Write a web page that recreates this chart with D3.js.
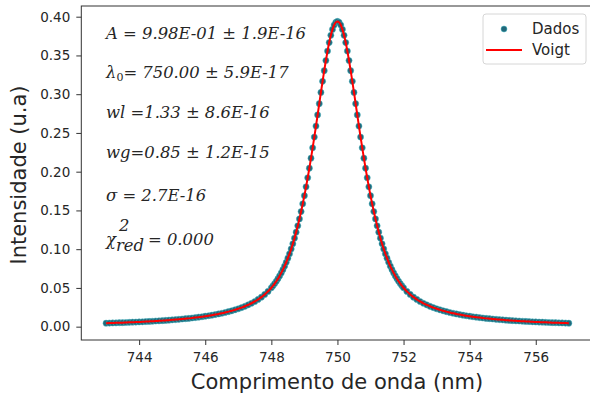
<!DOCTYPE html>
<html>
<head>
<meta charset="utf-8">
<script src="https://cdn.jsdelivr.net/npm/d3@7"></script>
<style>
  body { margin: 0; background: #fff; }
  svg { display: block; }
  text { font-family: "DejaVu Sans", sans-serif; fill: #262626; }
  .anot { font-family: "DejaVu Serif", serif; font-style: italic; font-size: 16.4px; }
</style>
</head>
<body>
<svg id="chart" width="590" height="395"></svg>
<script>
// comprimento de onda (nm) - passo 0.1 nas asas, 0.05 no pico
const comprimento = [
  743,743.1,743.2,743.3,743.4,743.5,743.6,743.7,743.8,743.9,
  744,744.1,744.2,744.3,744.4,744.5,744.6,744.7,744.8,744.9,
  745,745.1,745.2,745.3,745.4,745.5,745.6,745.7,745.8,745.9,
  746,746.1,746.2,746.3,746.4,746.5,746.6,746.7,746.8,746.9,
  747,747.1,747.2,747.3,747.4,747.5,747.6,747.7,747.8,747.9,
  748,748.05,748.1,748.15,748.2,748.25,748.3,748.35,748.4,748.45,
  748.5,748.55,748.6,748.65,748.7,748.75,748.8,748.85,748.9,748.95,
  749,749.05,749.1,749.15,749.2,749.25,749.3,749.35,749.4,749.45,
  749.5,749.55,749.6,749.65,749.7,749.75,749.8,749.85,749.9,749.95,
  750,
  750.05,750.1,750.15,750.2,750.25,750.3,750.35,750.4,750.45,750.5,
  750.55,750.6,750.65,750.7,750.75,750.8,750.85,750.9,750.95,751,
  751.05,751.1,751.15,751.2,751.25,751.3,751.35,751.4,751.45,751.5,
  751.55,751.6,751.65,751.7,751.75,751.8,751.85,751.9,751.95,752,
  752.1,752.2,752.3,752.4,752.5,752.6,752.7,752.8,752.9,753,
  753.1,753.2,753.3,753.4,753.5,753.6,753.7,753.8,753.9,754,
  754.1,754.2,754.3,754.4,754.5,754.6,754.7,754.8,754.9,755,
  755.1,755.2,755.3,755.4,755.5,755.6,755.7,755.8,755.9,756,
  756.1,756.2,756.3,756.4,756.5,756.6,756.7,756.8,756.9,757
];

const intensidade = [
  0.0045,0.0047,0.0048,0.0049,0.0051,0.0052,0.0054,0.0056,0.0058,0.0059,
  0.0061,0.0063,0.0066,0.0068,0.0070,0.0073,0.0075,0.0078,0.0081,0.0084,
  0.0088,0.0091,0.0095,0.0099,0.0103,0.0107,0.0112,0.0117,0.0123,0.0128,
  0.0135,0.0141,0.0148,0.0156,0.0164,0.0173,0.0183,0.0194,0.0205,0.0218,
  0.0231,0.0246,0.0263,0.0282,0.0302,0.0325,0.0352,0.0381,0.0416,0.0455,
  0.0502,0.0528,0.0556,0.0586,0.0619,0.0655,0.0694,0.0736,0.0781,0.0830,
  0.0884,0.0941,0.1003,0.1070,0.1142,0.1220,0.1302,0.1391,0.1485,0.1585,
  0.1691,0.1804,0.1922,0.2045,0.2174,0.2308,0.2447,0.2588,0.2733,0.2878,
  0.3023,0.3166,0.3304,0.3435,0.3556,0.3666,0.3760,0.3836,0.3893,0.3927,
  0.3939,
  0.3927,0.3893,0.3836,0.3760,0.3666,0.3556,0.3435,0.3304,0.3166,0.3023,
  0.2878,0.2733,0.2588,0.2447,0.2308,0.2174,0.2045,0.1922,0.1804,0.1691,
  0.1585,0.1485,0.1391,0.1302,0.1220,0.1142,0.1070,0.1003,0.0941,0.0884,
  0.0830,0.0781,0.0736,0.0694,0.0655,0.0619,0.0586,0.0556,0.0528,0.0502,
  0.0455,0.0416,0.0381,0.0352,0.0325,0.0302,0.0282,0.0263,0.0246,0.0231,
  0.0218,0.0205,0.0194,0.0183,0.0173,0.0164,0.0156,0.0148,0.0141,0.0135,
  0.0128,0.0123,0.0117,0.0112,0.0107,0.0103,0.0099,0.0095,0.0091,0.0088,
  0.0084,0.0081,0.0078,0.0075,0.0073,0.0070,0.0068,0.0066,0.0063,0.0061,
  0.0059,0.0058,0.0056,0.0054,0.0052,0.0051,0.0049,0.0048,0.0047,0.0045
];

// ajuste Voigt coincide com os dados (chi2 = 0)
const ajusteVoigt = intensidade;

const xTicks = [744, 746, 748, 750, 752, 754, 756];
const yTicks = [0, 0.05, 0.10, 0.15, 0.20, 0.25, 0.30, 0.35, 0.40];

const svg = d3.select("#chart");
const mLeft = 81.3, mRight = 593.6, mTop = 6, mBottom = 340;

const x = d3.scaleLinear().domain([742.25, 757.75]).range([mLeft, mRight]);
const y = d3.scaleLinear().domain([-0.0172, 0.4138]).range([mBottom, mTop]);

const pts = comprimento.map((c, i) => ({ c: c, v: intensidade[i], f: ajusteVoigt[i] }));

svg.append("clipPath").attr("id", "clip")
  .append("rect").attr("x", mLeft).attr("y", mTop)
  .attr("width", mRight - mLeft).attr("height", mBottom - mTop);

const plot = svg.append("g").attr("clip-path", "url(#clip)");

// dados
plot.selectAll("circle.dado")
  .data(pts)
  .enter()
  .append("circle")
  .attr("class", "dado")
  .attr("cx", d => x(d.c))
  .attr("cy", d => y(d.v))
  .attr("r", 3.1)
  .attr("fill", "#22687a")
  .attr("stroke", "#45b9c4")
  .attr("stroke-width", 0.5);

// ajuste
const line = d3.line()
  .x(d => x(d.c))
  .y(d => y(d.f))
  .curve(d3.curveCatmullRom);

plot.append("path")
  .datum(pts)
  .attr("d", line)
  .attr("fill", "none")
  .attr("stroke", "#ff0000")
  .attr("stroke-width", 2);

// eixos
const xAxis = svg.append("g")
  .attr("transform", "translate(0," + mBottom + ")")
  .call(d3.axisBottom(x).tickValues(xTicks).tickFormat(d3.format("d")).tickSize(5).tickPadding(7));
const yAxis = svg.append("g")
  .attr("transform", "translate(" + mLeft + ",0)")
  .call(d3.axisLeft(y).tickValues(yTicks).tickFormat(d3.format(".2f")).tickSize(5).tickPadding(6));

[xAxis, yAxis].forEach(a => {
  a.select(".domain").remove();
  a.selectAll("line").attr("stroke", "#333");
  a.selectAll("text").attr("font-size", "13.5px").attr("font-family", "DejaVu Sans").attr("fill", "#262626");
});

svg.append("rect")
  .attr("x", mLeft).attr("y", mTop)
  .attr("width", mRight - mLeft).attr("height", mBottom - mTop)
  .attr("fill", "none").attr("stroke", "#333").attr("stroke-width", 1);

// rotulos
svg.append("text")
  .attr("x", 337).attr("y", 389)
  .attr("text-anchor", "middle")
  .attr("font-size", "21px")
  .text("Comprimento de onda (nm)");

svg.append("text")
  .attr("transform", "translate(26," + ((mTop + mBottom) / 2 + 2) + ") rotate(-90)")
  .attr("text-anchor", "middle")
  .attr("font-size", "21px")
  .text("Intensidade (u.a)");

// anotacoes
const ax = 106;
svg.append("text").attr("class", "anot").attr("x", ax).attr("y", 39)
  .text("A = 9.98E-01 \u00b1 1.9E-16");

const a2 = svg.append("text").attr("class", "anot").attr("x", ax).attr("y", 78);
a2.append("tspan").text("\u03bb");
a2.append("tspan").attr("dy", 3).attr("font-size", "11px").attr("font-style", "normal").text("0");
a2.append("tspan").attr("dy", -3).text("= 750.00 \u00b1 5.9E-17");

svg.append("text").attr("class", "anot").attr("x", ax).attr("y", 118)
  .text("wl =1.33 \u00b1 8.6E-16");
svg.append("text").attr("class", "anot").attr("x", ax).attr("y", 158)
  .text("wg=0.85 \u00b1 1.2E-15");
svg.append("text").attr("class", "anot").attr("x", ax).attr("y", 201)
  .text("\u03c3 = 2.7E-16");

svg.append("text").attr("class", "anot").attr("x", ax).attr("y", 245).text("\u03c7");
svg.append("text").attr("class", "anot").attr("x", 119).attr("y", 231).attr("font-size", "10.5px").text("2");
svg.append("text").attr("class", "anot").attr("x", 116).attr("y", 251).attr("font-size", "10.5px").text("red");
svg.append("text").attr("class", "anot").attr("x", 148).attr("y", 245).text("= 0.000");

// legenda
const leg = svg.append("g");
leg.append("rect")
  .attr("x", 483).attr("y", 14).attr("width", 103).attr("height", 50).attr("rx", 3)
  .attr("fill", "#fff").attr("fill-opacity", 0.8)
  .attr("stroke", "#d6d6d6");
leg.append("circle").attr("cx", 504).attr("cy", 29).attr("r", 3)
  .attr("fill", "#22687a").attr("stroke", "#45b9c4").attr("stroke-width", 0.5);
leg.append("line").attr("x1", 486).attr("x2", 522).attr("y1", 50).attr("y2", 50)
  .attr("stroke", "#ff0000").attr("stroke-width", 2);
leg.append("text").attr("x", 532).attr("y", 34).attr("font-size", "15px").text("Dados");
leg.append("text").attr("x", 532).attr("y", 55).attr("font-size", "15px").text("Voigt");
</script>
</body>
</html>
